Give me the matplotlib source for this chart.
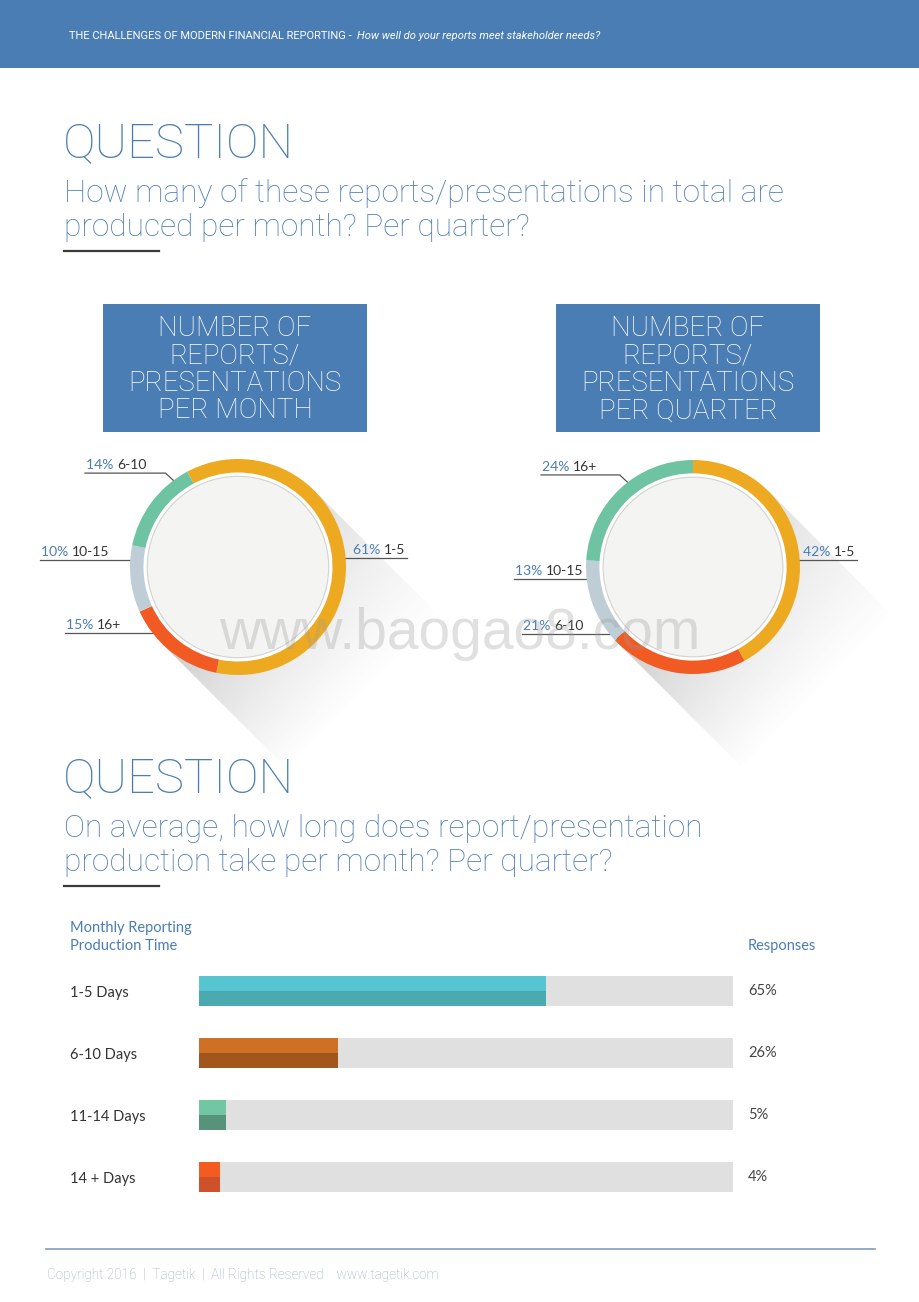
import numpy as np
import matplotlib
matplotlib.use('Agg')
import matplotlib.pyplot as plt
from matplotlib.patches import Rectangle, Circle, Polygon

W, H = 920, 1302

# ---- data ----
month_labels = ['1-5', '16+', '10-15', '6-10']
month_values = [61, 15, 10, 14]
quarter_labels = ['1-5', '6-10', '10-15', '16+']
quarter_values = [42, 21, 13, 24]

time_labels = ['1-5 Days', '6-10 Days', '11-14 Days', '14 + Days']
time_values = [65, 26, 5, 4]

# ---- colours ----
BLUE = '#4A7DB4'
SEG = {'1-5': '#EDAA21', '16+': '#F15A22', '10-15': '#BFCED6', '6-10': '#6EC4A2'}
SEG_Q = {'1-5': '#EDAA21', '6-10': '#F15A22', '10-15': '#BFCED6', '16+': '#6EC4A2'}
bar_top = ['#55C6D1', '#CF7124', '#72C6A3', '#F35B20']
bar_bot = ['#4AAAB0', '#A3561B', '#56937A', '#CD522B']

THIN = ['Roboto', 'DejaVu Sans']
plt.rcParams['font.family'] = ['Lato', 'DejaVu Sans']

fig = plt.figure(figsize=(W / 100, H / 100), dpi=100)
page = fig.add_axes([0, 0, 1, 1])
page.set_xlim(0, W)
page.set_ylim(H, 0)
page.axis('off')


def px_axes(x0, y0, w, h):
    return fig.add_axes([x0 / W, 1 - (y0 + h) / H, w / W, h / H])


renderer = fig.canvas.get_renderer()


def fit(t, width):
    bb = t.get_window_extent(renderer)
    t.set_fontsize(t.get_fontsize() * width / bb.width)
    return t.get_fontsize()


# header band
page.add_patch(Rectangle((0, 0), W, 68, color=BLUE, lw=0))
h1 = page.text(69, 36, 'THE CHALLENGES OF MODERN FINANCIAL REPORTING -  ', color='white',
               fontsize=7, va='center', ha='left', family=THIN)
fs = fit(h1, 290)
page.annotate('How well do your reports meet stakeholder needs?', xy=(1, 0.5), xycoords=h1,
              color='white', fontsize=fs, va='center', ha='left', style='italic',
              family=THIN)

sub_width = {157: 719, 792: 638}


def question(y_title, lines, y_line):
    t = page.text(63, y_title, 'QUESTION', color=BLUE, fontsize=34, va='baseline',
                  family=THIN, fontweight='light')
    fit(t, 232)
    fs_sub = None
    for i, ln in enumerate(lines):
        s = page.text(64, y_title + 45 + 34 * i, ln, color='#4F7FB5', fontsize=18,
                      va='baseline', family=THIN, fontweight='light')
        if i == 0:
            fs_sub = fit(s, sub_width[y_title])
        else:
            s.set_fontsize(fs_sub)
    page.plot([64, 159], [y_line, y_line], color='#3a3a3a', lw=1.6)


question(157, ['How many of these reports/presentations in total are',
               'produced per month? Per quarter?'], 251)
question(792, ['On average, how long does report/presentation',
               'production take per month? Per quarter?'], 886)

# boxes
for bx, last in [(103, 'PER MONTH'), (556, 'PER QUARTER')]:
    page.add_patch(Rectangle((bx, 304), 264, 128, color=BLUE, lw=0))
    lines = ['NUMBER OF', 'REPORTS/', 'PRESENTATIONS', last]
    ts = []
    for i, ln in enumerate(lines):
        ts.append(page.text(bx + 132, 328 + 27.6 * i, ln, color='white', fontsize=17,
                            ha='center', va='center', family=THIN, fontweight='light'))
    fsb = fit(ts[2], 213)
    for t in ts:
        t.set_fontsize(fsb)


# donuts
def donut(cx, cy, R, labels, values, colors, leaders):
    # long shadow
    d = np.array([1, 1]) / np.sqrt(2)
    n = np.array([1, -1]) / np.sqrt(2)
    L = 180
    c = np.array([cx, cy])
    p1 = c + R * n
    p2 = c - R * n
    poly = np.array([p1, p2, p2 + L * d, p1 + L * d])
    x0, y0 = poly.min(axis=0)
    x1, y1 = poly.max(axis=0)
    xs = np.linspace(x0, x1, 300)
    ys = np.linspace(y0, y1, 300)
    X, Y = np.meshgrid(xs, ys)
    along = ((X - cx) + (Y - cy)) / np.sqrt(2)
    across = ((X - cx) - (Y - cy)) / np.sqrt(2) / R
    fa = np.clip(1 - along / L, 0, 1) ** 1.1
    fb = 0.8 + 0.2 * np.clip(-across, -1, 1)
    alpha = 0.32 * fa * fb
    img = np.zeros(X.shape + (4,))
    img[..., :3] = 0.35
    img[..., 3] = alpha
    patch = Polygon(poly, closed=True, transform=page.transData, fc='none', ec='none')
    page.add_patch(patch)
    im = page.imshow(img, extent=(x0, x1, y1, y0), origin='upper', interpolation='bilinear',
                     zorder=1)
    im.set_clip_path(patch)
    page.set_xlim(0, W)
    page.set_ylim(H, 0)
    page.set_aspect('auto')

    ax = px_axes(cx - R, cy - R, 2 * R, 2 * R)
    ax.add_patch(Circle((0, 0), 0.9, color='white', zorder=0))
    ax.pie(values, colors=[colors[l] for l in labels], startangle=leaders['start'],
           counterclock=False, radius=1, wedgeprops=dict(width=0.125, lw=0))
    ax.add_patch(Circle((0, 0), 0.84, fc='#F4F4F2', ec='#D2D2D0', lw=0.8, zorder=3))
    ax.set_xlim(-1, 1)
    ax.set_ylim(-1, 1)
    ax.axis('off')

    rmid = R * 0.937
    for lab, val in zip(labels, values):
        ang, xend, elbow = leaders[lab]
        th = np.radians(ang)
        dx, dy = cx + rmid * np.sin(th), cy - rmid * np.cos(th)
        if elbow:
            xs_, ys_ = [dx, dx - 13, xend], [dy, dy - 12, dy - 12]
        else:
            xs_, ys_ = [dx, xend], [dy, dy]
        page.plot(xs_, ys_, color='#555555', lw=0.9, zorder=5)
        page.plot([dx], [dy], 'o', color='#2b2b2b', ms=5.5, zorder=6)
        ly = ys_[-1] - 4
        if xend > dx:
            t2 = page.text(xend - 2, ly, lab, color='#333333', fontsize=10, ha='right',
                           va='baseline', zorder=6)
            page.annotate(f'{val}% ', xy=(0, 0), xycoords=t2, color=BLUE, fontsize=10,
                          ha='right', va='bottom', zorder=6)
        else:
            t1 = page.text(xend + 1, ly, f'{val}% ', color=BLUE, fontsize=10, ha='left',
                           va='baseline', zorder=6)
            page.annotate(lab, xy=(1, 0), xycoords=t1, color='#333333', fontsize=10,
                          ha='left', va='bottom', zorder=6)


leaders_month = {'start': 118, '1-5': (85, 407, False), '16+': (229, 65, False),
                 '10-15': (274, 40, False), '6-10': (324, 85, True)}
leaders_quarter = {'start': 90, '1-5': (86, 857, False), '6-10': (228, 522, False),
                   '10-15': (263, 514, False), '16+': (323, 541, True)}
donut(238, 567, 108, month_labels, month_values, SEG, leaders_month)
donut(693, 567, 107, quarter_labels, quarter_values, SEG_Q, leaders_quarter)

# bar chart
page.text(70, 928, 'Monthly Reporting', color=BLUE, fontsize=10.5, va='center')
page.text(70, 946, 'Production Time', color=BLUE, fontsize=10.5, va='center')
page.text(748, 946, 'Responses', color=BLUE, fontsize=10.5, va='center')

bx = px_axes(199, 960, 534, 248)
ypos = np.arange(len(time_values))
h = 0.47
bx.barh(ypos, [100] * len(ypos), height=h, color='#E0E0E0', lw=0)
bx.barh(ypos - h / 4, time_values, height=h / 2, color=bar_top, lw=0)
bx.barh(ypos + h / 4, time_values, height=h / 2, color=bar_bot, lw=0)
bx.set_xlim(0, 100)
bx.set_ylim(3.5, -0.5)
bx.set_yticks(ypos)
bx.set_yticklabels(time_labels, ha='left', fontsize=10.5, color='#333333')
bx.tick_params(axis='y', length=0, pad=129 * 0.72)
bx.set_xticks([])
for s in bx.spines.values():
    s.set_visible(False)
for y, v in zip(ypos, time_values):
    bx.annotate(f'{v}%', xy=(1, y), xycoords=('axes fraction', 'data'),
                xytext=(15 * 0.72, 0), textcoords='offset points', va='center',
                fontsize=10.5, color='#444444')

# footer
page.plot([46, 875], [1249, 1249], color='#7F9CBB', lw=1.2)
ft = page.text(47, 1275, 'Copyright 2016  |  Tagetik  |  All Rights Reserved    www.tagetik.com',
               color='#9DADC6', fontsize=8, va='center', family=THIN, fontweight='light')
fit(ft, 390)

# watermark
fig.text(460 / W, 1 - 634 / H, 'www.baogao8.com', fontsize=41, color='#9a9a9a', alpha=0.3,
         ha='center', va='center', family='Liberation Sans', zorder=10)

fig.savefig('out.png', dpi=100)
